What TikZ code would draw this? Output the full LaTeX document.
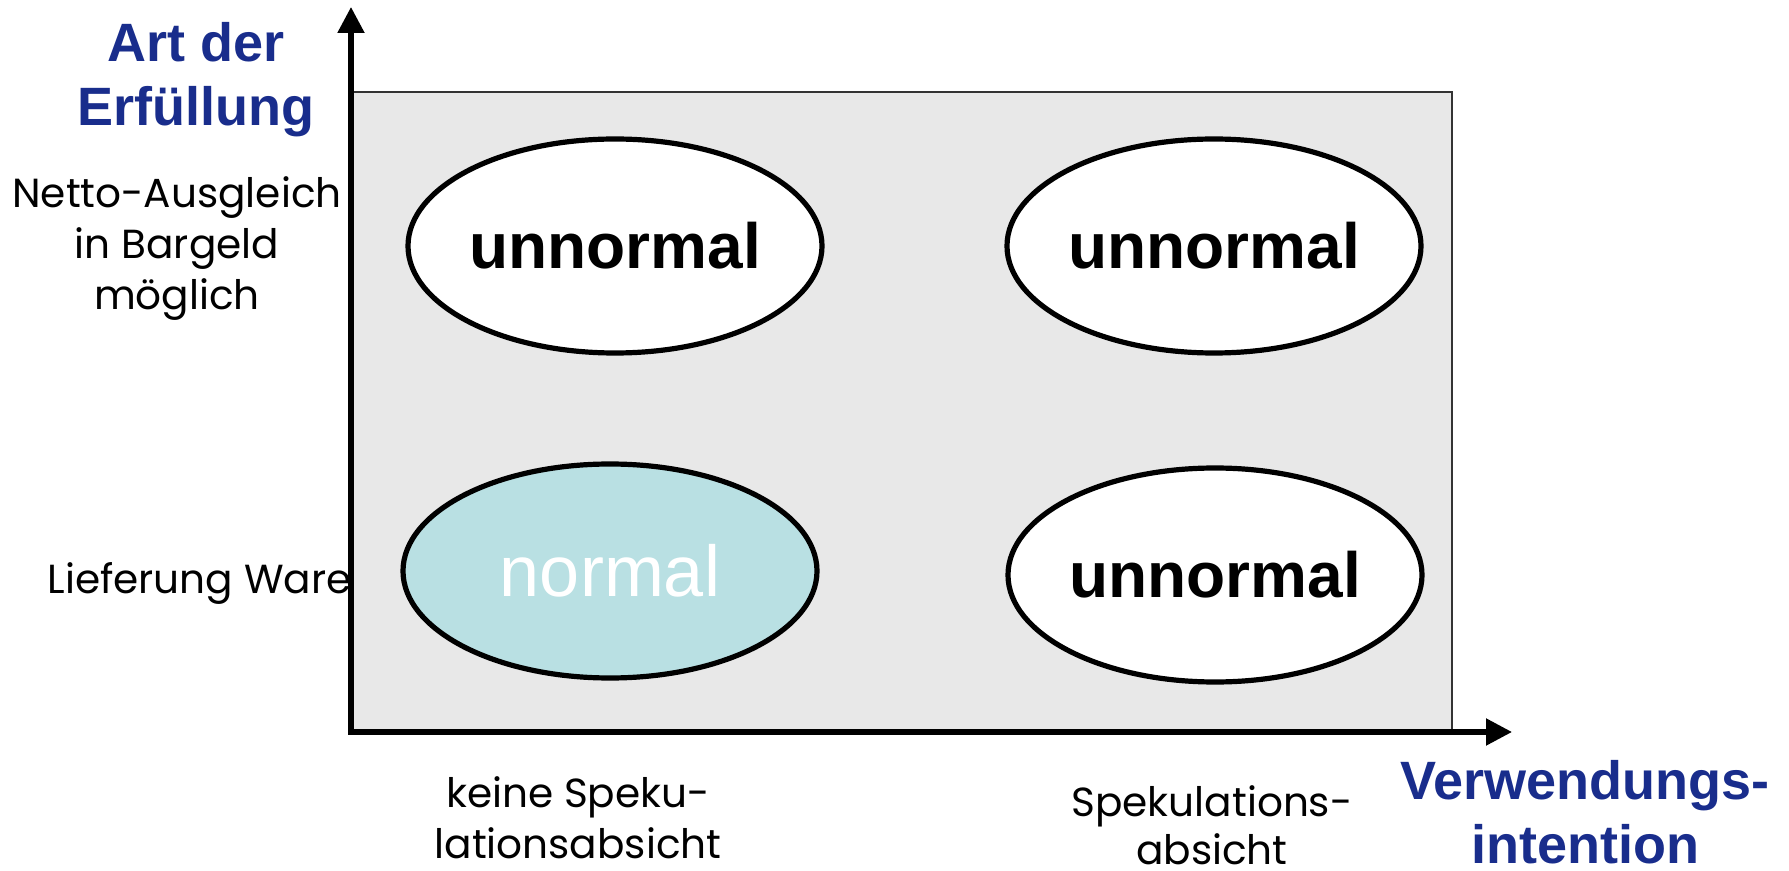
\documentclass[tikz,border=0pt]{standalone}
\usepackage{fontspec}
\setsansfont{Liberation Sans}
\newfontfamily\gothic{Poppins}
\usepackage{tikz}
\usetikzlibrary{shapes.geometric, arrows.meta}
\definecolor{titleblue}{RGB}{25,45,140}
\definecolor{panelgrey}{RGB}{232,232,232}
\definecolor{normalfill}{RGB}{185,224,227}
\tikzstyle{oval} = [ellipse, draw, line width=2.6pt, minimum width=207pt, minimum height=107pt, inner sep=0pt, fill=white, font=\sffamily\bfseries\fontsize{32}{38}\selectfont]
\tikzstyle{good} = [oval, fill=normalfill, text=white, font=\sffamily\fontsize{36}{42}\selectfont]
\tikzstyle{axis} = [line width=2.6pt, line join=miter, {Triangle[length=13pt,width=13pt]}-{Triangle[length=13pt,width=13pt]}]
\tikzstyle{axistitle} = [text=titleblue, align=center, inner sep=0pt, font=\sffamily\bfseries\fontsize{27}{32}\selectfont]
\tikzstyle{category} = [align=center, inner sep=0pt, font=\gothic\fontsize{20.3}{25.5}\selectfont]

\begin{document}
\begin{tikzpicture}[x=0.5pt, y=-0.5pt]
  \useasboundingbox (0,0) rectangle (1789,871);

  % labels of the two axes (base = last line)
  \node (art) [axistitle, anchor=base] at (196,126) {Art der\\Erfüllung};
  \node (netto) [category, anchor=base] at (177,310) {Netto-Ausgleich\\in Bargeld\\möglich};
  \node (ware) [category, anchor=base east] at (352,593) {Lieferung Ware};
  \node (keine) [category, anchor=base] at (578,858) {keine Speku-\\lationsabsicht};
  \node (spek) [category, anchor=base, font=\gothic\fontsize{20.3}{24}\selectfont] at (1212,864) {Spekulations-\\absicht};
  \node (verw) [axistitle, anchor=base] at (1585,863) {Verwendungs-\\intention};

  % panel and axes
  \draw [fill=panelgrey, draw=black!80, line width=0.6pt] (353,92) rectangle (1452,732);
  \coordinate (o) at (351,732);
  \coordinate (ytop) at (351,7);
  \coordinate (xend) at (1512,732);
  \draw [axis] (ytop) -- (o) -- (xend);

  % the four cases
  \node (tl) [oval] at (615,246) {unnormal};
  \node (tr) [oval] at (1214,246) {unnormal};
  \node (bl) [good] at (610,571) {normal};
  \node (br) [oval] at (1215,575) {unnormal};
\end{tikzpicture}
\end{document}
